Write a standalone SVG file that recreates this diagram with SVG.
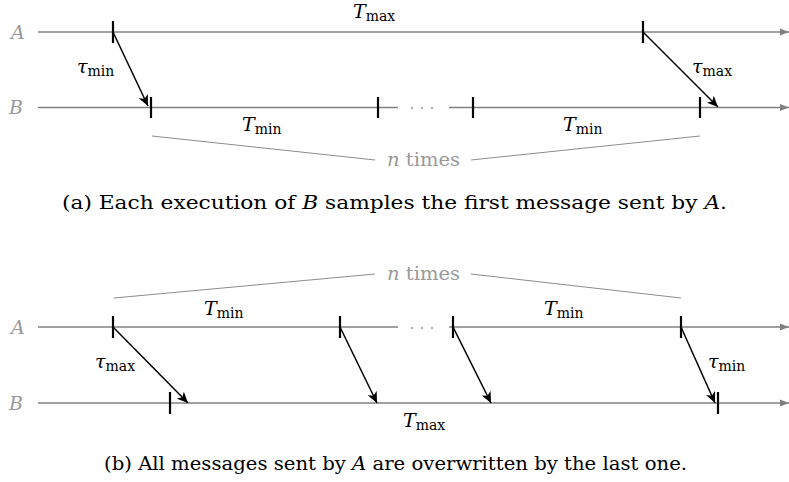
<svg xmlns="http://www.w3.org/2000/svg" width="789" height="482" viewBox="0 0 789 482">
<defs>
<marker id="ga" markerWidth="10" markerHeight="8" refX="9" refY="4" orient="auto" markerUnits="userSpaceOnUse">
<path d="M0,0.5 L9,4 L0,7.5 Z" fill="#808080"/>
</marker>
<marker id="ba" markerWidth="12" markerHeight="10" refX="11" refY="5" orient="auto" markerUnits="userSpaceOnUse">
<path d="M0,0 L11,5 L0,10 L3,5 Z" fill="#000"/>
</marker>
</defs>
<style>
.tl{stroke:#808080;stroke-width:1.6;fill:none}
.tla{stroke:#808080;stroke-width:1.6;fill:none;marker-end:url(#ga)}
.tk{stroke:#000;stroke-width:2.2}
.msg{stroke:#000;stroke-width:1.5;fill:none;marker-end:url(#ba)}
.br{stroke:#8c8c8c;stroke-width:1;fill:none}
.dot{fill:#999}
text{font-family:"DejaVu Serif",serif;font-size:19px;fill:#000}
.cap{font-size:18px}
.lbl{fill:#999;font-style:italic}
.gr{fill:#999}
.it{font-style:italic}
.sub{font-size:14px;font-style:normal}
</style>

<g id="panel-a">
<g id="a-timelines">
<line class="tla" x1="38" y1="32" x2="789" y2="32"/>
<line class="tl" x1="38" y1="107.5" x2="398" y2="107.5"/>
<line class="tla" x1="449" y1="107.5" x2="789" y2="107.5"/>
<circle class="dot" cx="412" cy="108" r="1.1"/>
<circle class="dot" cx="422" cy="108" r="1.1"/>
<circle class="dot" cx="432" cy="108" r="1.1"/>
</g>
<g id="a-labels-AB">
<text class="lbl" x="11" y="39">A</text>
<text class="lbl" x="9" y="114">B</text>
</g>
<g id="a-ticks">
<line class="tk" x1="113" y1="21" x2="113" y2="43"/>
<line class="tk" x1="643" y1="21" x2="643" y2="43"/>
<line class="tk" x1="151" y1="97" x2="151" y2="118"/>
<line class="tk" x1="378" y1="97" x2="378" y2="118"/>
<line class="tk" x1="473" y1="97" x2="473" y2="118"/>
<line class="tk" x1="700" y1="97" x2="700" y2="118"/>
</g>
<g id="a-connectors">
<line class="msg" x1="113" y1="32" x2="148" y2="106"/>
<line class="msg" x1="643" y1="32" x2="718" y2="107"/>
<line class="br" x1="152" y1="136" x2="375" y2="160"/>
<line class="br" x1="471" y1="160" x2="700" y2="136"/>
</g>
<g id="a-text">
<text x="353" y="18"><tspan class="it">T</tspan><tspan class="sub" dy="3">max</tspan></text>
<text x="242" y="131"><tspan class="it">T</tspan><tspan class="sub" dy="3">min</tspan></text>
<text x="563" y="131"><tspan class="it">T</tspan><tspan class="sub" dy="3">min</tspan></text>
<text x="77" y="73"><tspan class="it">τ</tspan><tspan class="sub" dy="3">min</tspan></text>
<text x="692" y="73"><tspan class="it">τ</tspan><tspan class="sub" dy="3">max</tspan></text>
<text class="gr" x="387" y="166" textLength="73" lengthAdjust="spacingAndGlyphs"><tspan class="it">n</tspan> times</text>
<text class="cap" x="62" y="209" textLength="665" lengthAdjust="spacingAndGlyphs">(a) Each execution of <tspan class="it">B</tspan> samples the first message sent by <tspan class="it">A</tspan>.</text>
</g>
</g>

<g id="panel-b">
<g id="b-timelines">
<line class="tl" x1="38" y1="327" x2="398" y2="327"/>
<line class="tla" x1="449" y1="327" x2="789" y2="327"/>
<line class="tla" x1="38" y1="403" x2="789" y2="403"/>
<circle class="dot" cx="412" cy="328" r="1.1"/>
<circle class="dot" cx="422" cy="328" r="1.1"/>
<circle class="dot" cx="432" cy="328" r="1.1"/>
</g>
<g id="b-labels-AB">
<text class="lbl" x="11" y="334">A</text>
<text class="lbl" x="9" y="410">B</text>
</g>
<g id="b-ticks">
<line class="tk" x1="113" y1="316" x2="113" y2="338"/>
<line class="tk" x1="340" y1="316" x2="340" y2="338"/>
<line class="tk" x1="453" y1="316" x2="453" y2="338"/>
<line class="tk" x1="681" y1="316" x2="681" y2="338"/>
<line class="tk" x1="170" y1="392" x2="170" y2="414"/>
<line class="tk" x1="718" y1="392" x2="718" y2="414"/>
</g>
<g id="b-connectors">
<line class="msg" x1="113" y1="327" x2="188" y2="403"/>
<line class="msg" x1="340" y1="327" x2="377" y2="403"/>
<line class="msg" x1="453" y1="327" x2="491" y2="403"/>
<line class="msg" x1="681" y1="327" x2="715" y2="403"/>
<line class="br" x1="114" y1="298" x2="375" y2="274"/>
<line class="br" x1="471" y1="274" x2="681" y2="298"/>
</g>
<g id="b-text">
<text x="204" y="315"><tspan class="it">T</tspan><tspan class="sub" dy="3">min</tspan></text>
<text x="544" y="315"><tspan class="it">T</tspan><tspan class="sub" dy="3">min</tspan></text>
<text x="95" y="368"><tspan class="it">τ</tspan><tspan class="sub" dy="3">max</tspan></text>
<text x="708" y="368"><tspan class="it">τ</tspan><tspan class="sub" dy="3">min</tspan></text>
<text x="403" y="427"><tspan class="it">T</tspan><tspan class="sub" dy="3">max</tspan></text>
<text class="gr" x="387" y="280" textLength="73" lengthAdjust="spacingAndGlyphs"><tspan class="it">n</tspan> times</text>
<text class="cap" x="104" y="470" textLength="583" lengthAdjust="spacingAndGlyphs">(b) All messages sent by <tspan class="it">A</tspan> are overwritten by the last one.</text>
</g>
</g>
</svg>
